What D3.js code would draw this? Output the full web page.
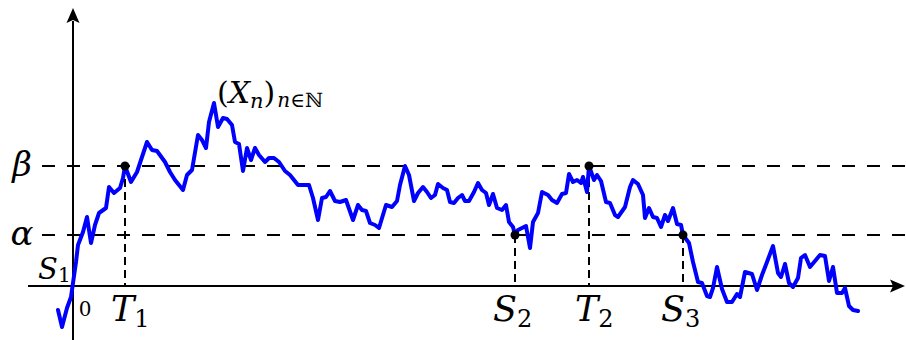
<!DOCTYPE html>
<html>
<head>
<meta charset="utf-8">
<script src="https://cdn.jsdelivr.net/npm/d3@7"></script>
<style>
    body { margin: 0; background: #fff; }
    #chart { width: 906px; height: 340px; }
</style>
</head>
<body>
<div id="chart"></div>
<script>
// random walk X_n (time, value)
var walkT = [-1.5, -1.1, -0.6, -0.2, 0.0, 0.3, 0.5, 1.0, 1.4, 1.8, 2.2, 2.6, 3.3, 3.6, 4.1, 4.7, 5.0, 5.2,
    5.8, 6.4, 7.4, 7.9, 8.4, 9.2, 9.7, 10.2, 11.0, 11.4, 11.9, 12.5, 12.9, 13.3, 13.6, 14.1, 14.5, 15.0,
    15.4, 15.9, 16.2, 16.6, 17.0, 17.4, 17.8, 18.2, 18.6, 19.2, 19.6, 20.1, 20.6, 21.2, 21.7, 22.5, 23.6,
    24.0, 24.5, 24.9, 25.3, 25.7, 26.2, 26.7, 27.3, 28.0, 28.5, 28.9, 29.3, 29.7, 30.2, 30.6, 31.3, 31.9,
    32.4, 32.7, 33.2, 33.6, 34.1, 34.5, 35.0, 35.4, 35.8, 36.2, 36.5, 37.0, 37.4, 37.7, 38.1, 38.5, 38.9,
    39.2, 39.6, 40.1, 40.5, 40.9, 41.3, 41.6, 42.0, 42.4, 42.9, 43.3, 43.6, 44.0, 44.2, 44.5, 44.9, 45.3,
    45.7, 46.0, 46.5, 46.9, 47.5, 47.9, 48.4, 48.9, 49.3, 49.6, 50.0, 50.4, 50.8, 51.0, 51.4, 51.6, 52.1,
    52.4, 52.8, 53.3, 53.7, 54.2, 54.5, 55.2, 55.7, 56.0, 56.5, 57.0, 57.2, 57.6, 58.0, 58.4, 58.8, 59.2,
    59.5, 60.0, 60.4, 60.8, 61.0, 61.6, 62.0, 62.5, 62.9, 63.4, 63.7, 64.0, 64.4, 64.9, 65.4, 65.9, 66.4,
    66.7, 67.2, 67.9, 68.4, 68.9, 69.4, 70.0, 70.5, 70.8, 71.2, 71.6, 72.0, 72.5, 72.8, 73.2, 73.7, 74.2,
    74.7, 75.2, 75.6, 76.0, 76.4, 76.9, 77.2, 77.6, 78.0, 78.5];
var walkV = [-2.4, -4.1, -2.2, -1.1, 0.3, 2.4, 4.1, 5.4, 6.9, 4.3, 6.1, 7.3, 7.8, 9.9, 9.3, 9.8, 10.8, 12.0,
    10.4, 11.4, 14.4, 13.6, 13.5, 12.4, 11.4, 10.6, 9.6, 11.1, 11.6, 15.1, 14.6, 13.8, 16.4, 18.3, 15.9, 16.8,
    16.7, 16.1, 14.4, 14.2, 11.5, 13.8, 12.6, 13.8, 13.1, 12.4, 12.8, 12.8, 12.4, 11.5, 11.1, 10.1, 10.1,
    8.8, 6.6, 8.8, 8.9, 9.5, 8.5, 8.4, 8.6, 6.6, 8.1, 7.6, 7.5, 6.3, 6.1, 5.8, 8.1, 7.9,
    8.5, 10.1, 12.0, 11.1, 8.5, 9.3, 9.9, 9.4, 8.8, 9.1, 10.2, 9.8, 9.6, 8.4, 8.3, 8.8, 9.1,
    8.5, 8.5, 9.4, 10.3, 9.6, 9.3, 8.1, 9.2, 7.8, 7.6, 8.1, 6.4, 5.9, 5.1, 5.6, 5.8, 6.0,
    3.8, 6.4, 7.3, 9.4, 9.1, 8.6, 8.3, 9.2, 9.3, 11.2, 10.4, 10.6, 10.3, 10.9, 9.4, 12.0, 10.6,
    11.1, 10.5, 8.4, 8.3, 7.1, 6.9, 7.9, 9.9, 10.6, 10.2, 9.1, 6.8, 7.8, 6.9, 6.8, 5.9, 7.1,
    6.5, 7.8, 6.2, 6.1, 5.1, 4.3, 2.4, 0.4, 0.3, -1.0, -1.1, -0.2, 1.9, -0.3, -1.6, -1.6, -0.8,
    -1.1, 1.4, 1.2, -0.4, 1.1, 2.4, 4.0, 1.3, 0.9, 2.2, 0.3, -0.1, 0.8, 2.8, 3.1, 1.9, 2.5,
    3.1, 3.0, 0.5, 1.9, -0.7, -0.7, -0.2, -2.0, -2.4, -2.5];

// the two levels
var levelNames = ['\u03b2', '\u03b1'];
var levelValues = [12.0, 5.1];

// stopping times
var stopNames = ['T', 'S', 'T', 'S'];
var stopIndex = ['1', '2', '2', '3'];
var stopTimes = [5.2, 44.2, 51.6, 61.0];
var stopLevels = [12.0, 5.1, 12.0, 5.1];

var width = 906, height = 340;
var serif = 'DejaVu Serif';

var svg = d3.select('#chart')
    .append('svg')
        .attr('width', width)
        .attr('height', height)
;

var x = d3.scaleLinear().domain([-4.5, 83.2]).range([28, 905]);
var y = d3.scaleLinear().domain([-5.4, 27.8]).range([340, 8]);

var walk = walkT.map(function(t, i) { return [t, walkV[i]]; });

// dashed levels
svg.append('g')
    .selectAll('line')
    .data(levelValues)
    .enter().append('line')
        .attr('x1', 42)
        .attr('x2', 905)
        .attr('y1', function(d) { return y(d); })
        .attr('y2', function(d) { return y(d); })
        .attr('stroke', '#000')
        .attr('stroke-width', 2.2)
        .attr('stroke-dasharray', '13,12')
;

// vertical dashes down to the time axis
svg.append('g')
    .selectAll('line')
    .data(stopTimes)
    .enter().append('line')
        .attr('x1', function(d) { return x(d); })
        .attr('x2', function(d) { return x(d); })
        .attr('y1', function(d, i) { return y(stopLevels[i]); })
        .attr('y2', y(0))
        .attr('stroke', '#000')
        .attr('stroke-width', 2)
        .attr('stroke-dasharray', '8,5')
;

// axes
svg.append('line')
    .attr('x1', x(-4.5)).attr('x2', x(82))
    .attr('y1', y(0)).attr('y2', y(0))
    .attr('stroke', '#000').attr('stroke-width', 2)
;
svg.append('line')
    .attr('x1', x(0)).attr('x2', x(0))
    .attr('y1', y(-5.4)).attr('y2', y(26.5))
    .attr('stroke', '#000').attr('stroke-width', 2)
;
svg.append('path')
    .attr('d', 'M' + x(83.2) + ',' + y(0) + 'l-15,-6.5l3,6.5l-3,6.5z')
    .attr('fill', '#000')
;
svg.append('path')
    .attr('d', 'M' + x(0) + ',' + y(27.8) + 'l-6.5,15l6.5,-3l6.5,3z')
    .attr('fill', '#000')
;

// the walk
var line = d3.line()
    .x(function(d) { return x(d[0]); })
    .y(function(d) { return y(d[1]); })
;
svg.append('path')
    .datum(walk)
    .attr('d', line)
    .attr('fill', 'none')
    .attr('stroke', '#0000ff')
    .attr('stroke-width', 4)
    .attr('stroke-linejoin', 'round')
    .attr('stroke-linecap', 'round')
;

// dots
svg.append('g')
    .selectAll('circle')
    .data(stopTimes)
    .enter().append('circle')
        .attr('cx', function(d) { return x(d); })
        .attr('cy', function(d, i) { return y(stopLevels[i]); })
        .attr('r', 4.5)
        .attr('fill', '#000')
;

// level labels
svg.append('g')
    .selectAll('text')
    .data(levelNames)
    .enter().append('text')
        .attr('x', 22)
        .attr('y', function(d, i) { return y(levelValues[i]) + 10; })
        .attr('text-anchor', 'middle')
        .style('font-family', serif)
        .style('font-style', 'italic')
        .style('font-size', '34px')
        .text(function(d) { return d; })
;

// stopping time labels
var stopLabel = svg.append('g')
    .selectAll('text')
    .data(stopTimes)
    .enter().append('text')
        .attr('x', function(d, i) { return x(d) - (stopNames[i] == 'T' ? 14 : 22); })
        .attr('y', 321)
        .style('font-family', serif)
        .style('font-style', 'italic')
        .style('font-size', '35px')
;
stopLabel.append('tspan').text(function(d, i) { return stopNames[i]; });
stopLabel.append('tspan')
    .attr('dy', 6)
    .style('font-style', 'normal')
    .style('font-size', '24px')
    .text(function(d, i) { return stopIndex[i]; })
;

// S1 and 0
var s1 = svg.append('text')
    .attr('x', 38)
    .attr('y', 279)
    .style('font-family', serif)
    .style('font-style', 'italic')
    .style('font-size', '29px')
;
s1.append('tspan').text('S');
s1.append('tspan').attr('dy', 3).style('font-style', 'normal').style('font-size', '20px').text('1');

svg.append('text')
    .attr('x', 85)
    .attr('y', 316)
    .attr('text-anchor', 'middle')
    .style('font-family', serif)
    .style('font-size', '20px')
    .text('0')
;

// (X_n)_{n in N}
var title = svg.append('text')
    .attr('x', 217)
    .attr('y', 103)
    .style('font-family', serif)
    .style('font-style', 'italic')
    .style('font-size', '30px')
;
title.append('tspan').style('font-style', 'normal').text('(');
title.append('tspan').text('X');
title.append('tspan').attr('dy', 5).style('font-size', '21px').text('n');
title.append('tspan').attr('dy', -5).style('font-style', 'normal').text(')');
title.append('tspan').attr('dx', 2).attr('dy', 4).style('font-size', '20px').text('n');
title.append('tspan').style('font-style', 'normal').style('font-size', '20px').text('\u2208\u2115');
</script>
</body>
</html>
